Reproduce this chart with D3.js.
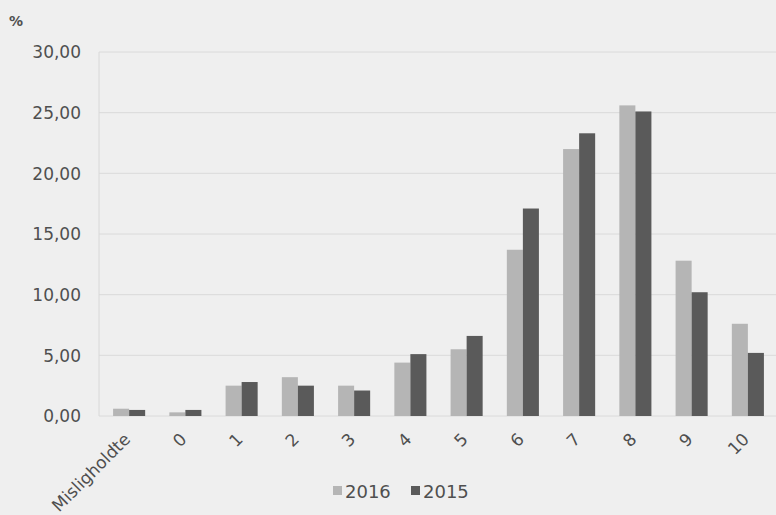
<!DOCTYPE html>
<html>
<head>
<meta charset="utf-8">
<script src="https://cdn.jsdelivr.net/npm/d3@7"></script>
<style>
    body { margin: 0; background: #efefef; }
    svg { display: block; font-family: "DejaVu Sans", Verdana, sans-serif; }
</style>
</head>
<body>
<div id="chart"></div>
<script>
    const categories = ["Misligholdte", "0", "1", "2", "3", "4", "5", "6", "7", "8", "9", "10"];
    const series = ["2016", "2015"];
    const values2016 = [0.6, 0.3, 2.5, 3.2, 2.5, 4.4, 5.5, 13.7, 22.0, 25.6, 12.8, 7.6];
    const values2015 = [0.5, 0.5, 2.8, 2.5, 2.1, 5.1, 6.6, 17.1, 23.3, 25.1, 10.2, 5.2];
    const yTicks = [0, 5, 10, 15, 20, 25, 30];

    const data = categories.map((c, i) => ({ cat: c, v: { "2016": values2016[i], "2015": values2015[i] } }));
    const colors = { "2016": "#b5b5b5", "2015": "#5a5a5a" };

    const width = 776, height = 515;
    const svg = d3.select("#chart")
        .append("svg")
        .attr("width", width)
        .attr("height", height);

    const x = d3.scaleBand()
        .domain(categories)
        .range([101, 776])
        .paddingInner(0.43)
        .paddingOuter(0.215);

    const xs = d3.scaleBand()
        .domain(series)
        .range([0, x.bandwidth()]);

    const y = d3.scaleLinear()
        .domain([0, 30])
        .range([416, 52]);

    // gridlines
    svg.append("g")
        .selectAll("line")
        .data(yTicks)
        .enter().append("line")
        .attr("x1", 99)
        .attr("x2", width)
        .attr("y1", d => y(d))
        .attr("y2", d => y(d))
        .attr("stroke", "#dadada")
        .attr("stroke-width", 1);

    svg.append("line")
        .attr("x1", 99).attr("x2", 99)
        .attr("y1", y(30)).attr("y2", y(0))
        .attr("stroke", "#d8d8d8");

    const yAxis = svg.append("g")
        .attr("transform", "translate(84,0)")
        .call(d3.axisLeft(y).tickValues(yTicks).tickSize(0)
            .tickFormat(d => d3.format(".2f")(d).replace(".", ",")))
        .attr("font-family", null);
    yAxis.select(".domain").remove();
    yAxis.selectAll("text")
        .attr("fill", "#4f4f4f")
        .style("font-size", "17px")
        .attr("dy", "0.35em");

    svg.append("text")
        .attr("x", 9)
        .attr("y", 26)
        .attr("fill", "#4f4f4f")
        .style("font-size", "14px")
        .style("font-weight", "bold")
        .text("%");

    // bars
    const groups = svg.append("g")
        .selectAll("g")
        .data(data)
        .enter().append("g")
        .attr("transform", d => `translate(${x(d.cat)},0)`);

    groups.selectAll("rect")
        .data(d => series.map(s => ({ s, v: d.v[s] })))
        .enter().append("rect")
        .attr("x", d => xs(d.s))
        .attr("y", d => y(d.v))
        .attr("width", xs.bandwidth())
        .attr("height", d => y(0) - y(d.v))
        .attr("fill", d => colors[d.s]);

    // x labels
    const xAxis = svg.append("g")
        .attr("transform", `translate(0,${y(0)})`)
        .call(d3.axisBottom(x).tickSize(0))
        .attr("font-family", null);
    xAxis.select(".domain").remove();
    xAxis.selectAll("text")
        .attr("fill", "#4f4f4f")
        .style("font-size", "17px")
        .attr("text-anchor", "end")
        .attr("dy", "0.35em")
        .attr("transform", "translate(-4,18) rotate(-45)");

    // legend
    const legend = svg.append("g").attr("transform", "translate(333,491)");
    const items = [{ s: "2016", x: 0 }, { s: "2015", x: 78 }];
    items.forEach(it => {
        legend.append("rect")
            .attr("x", it.x).attr("y", -5)
            .attr("width", 9).attr("height", 9)
            .attr("fill", colors[it.s]);
        legend.append("text")
            .attr("x", it.x + 12).attr("y", 1)
            .attr("dy", "0.35em")
            .attr("fill", "#4f4f4f")
            .style("font-size", "18px")
            .text(it.s);
    });
</script>
</body>
</html>
